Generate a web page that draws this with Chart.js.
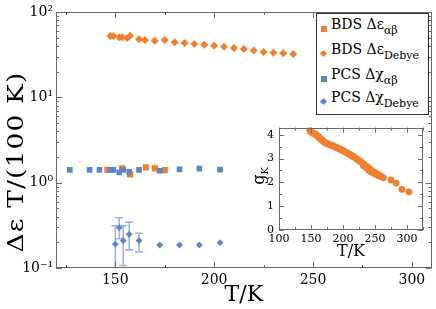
<!DOCTYPE html>
<html>
<head>
<meta charset="utf-8">
<script src="https://cdn.jsdelivr.net/npm/chart.js@4.4.0/dist/chart.umd.min.js"></script>
<style>
  body { margin: 0; background: #fff; }
  #wrap { position: relative; width: 436px; height: 309px; font-family: "DejaVu Serif", serif; color: #000; overflow: hidden; }
  #main { position: absolute; left: 0; top: 0; }
  #inset { position: absolute; left: 236px; top: 116px; }
  .legend { position: absolute; left: 316px; top: 13px; width: 111px; height: 100px; border: 1px solid #333; background: #fff; }
  .row { position: absolute; left: 14px; font-size: 14px; line-height: 14px; white-space: nowrap; }
  .row .s { font-size: 11px; position: relative; top: 5px; }
  .mk { position: absolute; width: 6px; height: 6px; }
  .mk.d { width: 5px; height: 5px; transform: rotate(45deg); }
  .ytitle { position: absolute; left: -85px; top: 149px; width: 200px; height: 26px; font-size: 23px; line-height: 26px;
            letter-spacing: 1px; text-align: center; white-space: nowrap; transform: rotate(-90deg) scaleX(1.15); }
  .gk { position: absolute; left: 244px; top: 166px; width: 30px; height: 20px; font-size: 16px; line-height: 20px;
        text-align: center; transform: rotate(-90deg); }
  .gk span { font-size: 10px; position: relative; top: 4px; }
</style>
</head>
<body>
<div id="wrap">
  <canvas id="main" width="436" height="309"></canvas>
  <canvas id="inset" width="194" height="148"></canvas>
  <div class="legend" id="legend"></div>
  <div class="ytitle">Δε T/(100 K)</div>
  <div class="gk">g<span>K</span></div>
</div>
<script>
const orange = '#f07f2f';
const blue = '#5a87c8';

// BDS Δε_αβ (orange squares)
const bdsAbT = [146, 153.5, 157.5, 165.5, 170, 175];
const bdsAbV = [1.41, 1.47, 1.25, 1.51, 1.47, 1.40];

// BDS Δε_Debye (orange diamonds)
const bdsDebT = [147.5, 149, 152, 153.5, 156, 157.5, 162, 165, 170, 175, 180, 185, 190, 195, 200, 205, 210, 215, 220, 225, 230, 235, 240];
const bdsDebV = [52.3, 52.3, 50.5, 50.5, 49.6, 52.7, 47.9, 47.0, 46.1, 47.0, 44.2, 43.3, 42.2, 41.4, 40.3, 39.2, 37.8, 36.8, 35.5, 34.0, 33.4, 32.8, 32.2];

// PCS Δχ_αβ (blue squares)
const pcsAbT = [127, 137, 142, 147.5, 149, 152, 154, 157, 162, 172.5, 182.5, 192.5, 203];
const pcsAbV = [1.41, 1.41, 1.41, 1.41, 1.41, 1.32, 1.41, 1.34, 1.41, 1.38, 1.43, 1.46, 1.42];

// PCS Δχ_Debye (blue diamonds) with error bars
const pcsDebT = [150, 152, 154, 157, 162, 172.5, 182.5, 192.5, 203];
const pcsDebV = [0.19, 0.297, 0.209, 0.248, 0.209, 0.186, 0.186, 0.186, 0.198];
const pcsDebLo = [0.05, 0.22, 0.107, 0.163, 0.155, null, null, null, null];
const pcsDebHi = [0.313, 0.388, 0.313, 0.345, 0.255, null, null, null, null];

// inset: Kirkwood factor g_K vs T
const gkT = [148, 149, 150, 151, 153, 155, 157, 158, 160, 161, 162, 163, 165, 167, 169, 171, 173, 175, 177, 179,
  181, 183, 185, 187, 189, 191, 193, 195, 197, 199, 201, 203, 205, 207, 209, 211, 213, 215, 217, 219,
  221, 223, 225, 227, 229, 231, 233, 235, 237, 239, 241, 243, 245, 247, 249, 251, 253, 255, 257, 259,
  261, 263, 232, 236, 240, 244, 248, 252, 256, 275, 283, 292, 303];
const gkV = [4.20, 4.15, 4.12, 4.10, 4.07, 4.04, 4.02, 4.00, 3.96, 3.93, 3.90, 3.87, 3.82, 3.78, 3.73, 3.69, 3.66, 3.63, 3.61, 3.58,
  3.56, 3.55, 3.53, 3.50, 3.47, 3.45, 3.42, 3.40, 3.37, 3.35, 3.32, 3.29, 3.26, 3.23, 3.20, 3.17, 3.13, 3.10, 3.07, 3.03,
  2.99, 2.96, 2.92, 2.88, 2.84, 2.79, 2.75, 2.70, 2.66, 2.62, 2.57, 2.53, 2.49, 2.45, 2.42, 2.39, 2.35, 2.32, 2.29, 2.26,
  2.23, 2.19, 2.70, 2.62, 2.52, 2.44, 2.38, 2.33, 2.27, 2.10, 1.97, 1.71, 1.60];

// axis ticks
const xTicks = [150, 200, 250, 300];
const xMinor = [125, 175, 225, 275];
const yTicks = [0.1, 1, 10, 100];
const yTickLabels = ['10⁻¹', '10⁰', '10¹', '10²'];
const yMinor = [];
[0.1, 1, 10].forEach(d => { for (let k = 2; k <= 9; k++) yMinor.push(d * k); });
const inXTicks = [100, 150, 200, 250, 300];
const inXMinor = [125, 175, 225, 275, 325];
const inYTicks = [0, 1, 2, 3, 4];
const inYMinor = [0.5, 1.5, 2.5, 3.5];

function pairs(xs, ys) {
  return xs.map((x, i) => ({ x: x, y: ys[i] }));
}

// frame around the plot area with inward ticks on all four sides
const frameTicks = {
  id: 'frameTicks',
  beforeDraw(chart, args, o) {
    if (!o.fill) return;
    const a = chart.chartArea;
    chart.ctx.save();
    chart.ctx.fillStyle = o.fill;
    chart.ctx.fillRect(a.left, a.top, a.right - a.left, a.bottom - a.top);
    chart.ctx.restore();
  },
  afterDraw(chart, args, o) {
    const { ctx, chartArea: a, scales: { x, y } } = chart;
    ctx.save();
    ctx.strokeStyle = o.color;
    ctx.lineWidth = 1;
    ctx.strokeRect(Math.round(a.left) + 0.5, Math.round(a.top) + 0.5,
      Math.round(a.right - a.left) - 1, Math.round(a.bottom - a.top) - 1);
    ctx.beginPath();
    const vt = (v, len) => {
      const p = Math.round(x.getPixelForValue(v)) + 0.5;
      ctx.moveTo(p, a.bottom); ctx.lineTo(p, a.bottom - len);
      ctx.moveTo(p, a.top); ctx.lineTo(p, a.top + len);
    };
    const ht = (v, len) => {
      const p = Math.round(y.getPixelForValue(v)) + 0.5;
      ctx.moveTo(a.left, p); ctx.lineTo(a.left + len, p);
      ctx.moveTo(a.right, p); ctx.lineTo(a.right - len, p);
    };
    o.xMajor.forEach(v => vt(v, o.major));
    o.xMinor.forEach(v => vt(v, o.minor));
    o.yMajor.forEach(v => ht(v, o.major));
    o.yMinor.forEach(v => ht(v, o.minor));
    ctx.stroke();
    ctx.restore();
  }
};

// error bars for the PCS Debye points
const errorBars = {
  id: 'errorBars',
  beforeDatasetsDraw(chart, args, o) {
    if (!o.lo) return;
    const { ctx, chartArea: a, scales: { x, y } } = chart;
    ctx.save();
    ctx.beginPath();
    ctx.rect(a.left, a.top, a.right - a.left, a.bottom - a.top);
    ctx.clip();
    ctx.strokeStyle = o.color;
    ctx.lineWidth = 1.6;
    o.t.forEach((t, i) => {
      if (o.lo[i] == null) return;
      const px = x.getPixelForValue(t);
      const y1 = y.getPixelForValue(o.hi[i]);
      const y2 = y.getPixelForValue(o.lo[i]);
      ctx.beginPath();
      ctx.moveTo(px, y1); ctx.lineTo(px, y2);
      ctx.moveTo(px - 4, y1); ctx.lineTo(px + 4, y1);
      ctx.moveTo(px - 4, y2); ctx.lineTo(px + 4, y2);
      ctx.stroke();
    });
    ctx.restore();
  }
};

const tickFont = { family: 'DejaVu Serif', size: 14 };

new Chart(document.getElementById('main'), {
  type: 'scatter',
  data: {
    datasets: [
      { label: 'BDS Δε αβ', data: pairs(bdsAbT, bdsAbV), order: 2, pointStyle: 'rect', radius: 4.4,
        backgroundColor: orange, borderWidth: 0 },
      { label: 'BDS Δε Debye', data: pairs(bdsDebT, bdsDebV), order: 2, pointStyle: 'rectRot', radius: 4,
        backgroundColor: orange, borderWidth: 0 },
      { label: 'PCS Δχ αβ', data: pairs(pcsAbT, pcsAbV), order: 1, pointStyle: 'rect', radius: 4,
        backgroundColor: blue, borderWidth: 0 },
      { label: 'PCS Δχ Debye', data: pairs(pcsDebT, pcsDebV), order: 1, pointStyle: 'rectRot', radius: 3.4,
        backgroundColor: blue, borderWidth: 0 }
    ]
  },
  options: {
    responsive: false,
    animation: false,
    layout: { padding: { left: 0, right: 3, top: 12, bottom: 0 } },
    plugins: {
      legend: { display: false },
      tooltip: { enabled: false },
      frameTicks: { color: '#6b6b6b', major: 6, minor: 3, xMajor: xTicks, xMinor: xMinor, yMajor: yTicks, yMinor: yMinor },
      errorBars: { color: 'rgba(90,135,200,0.6)', t: pcsDebT, lo: pcsDebLo, hi: pcsDebHi }
    },
    scales: {
      x: {
        type: 'linear', min: 120, max: 310,
        grid: { display: false, drawTicks: false },
        border: { display: false },
        afterBuildTicks: s => { s.ticks = xTicks.map(v => ({ value: v })); },
        afterFit: s => { s.height = 41; },
        ticks: { font: tickFont, color: '#000', padding: 4 },
        title: { display: true, text: 'T/K', color: '#000', font: { family: 'DejaVu Serif', size: 22 },
          padding: { top: 0, bottom: 1 } }
      },
      y: {
        type: 'logarithmic', min: 0.1, max: 100,
        grid: { display: false, drawTicks: false },
        border: { display: false },
        afterBuildTicks: s => { s.ticks = yTicks.map(v => ({ value: v })); },
        afterFit: s => { s.width = 56; },
        ticks: { font: tickFont, color: '#000', padding: 3,
          callback: (v, i) => yTickLabels[i] }
      }
    }
  },
  plugins: [frameTicks, errorBars]
});

new Chart(document.getElementById('inset'), {
  type: 'scatter',
  data: {
    datasets: [
      { label: 'gK', data: pairs(gkT, gkV), pointStyle: 'circle', radius: 3.4, backgroundColor: orange, borderWidth: 0 }
    ]
  },
  options: {
    responsive: false,
    animation: false,
    layout: { padding: { left: 0, right: 7, top: 6, bottom: 0 } },
    plugins: {
      legend: { display: false },
      tooltip: { enabled: false },
      frameTicks: { fill: '#fff', color: '#6b6b6b', major: 5, minor: 3, xMajor: inXTicks, xMinor: inXMinor, yMajor: inYTicks, yMinor: inYMinor }
    },
    scales: {
      x: {
        type: 'linear', min: 100, max: 325,
        grid: { display: false, drawTicks: false },
        border: { display: false },
        afterBuildTicks: s => { s.ticks = inXTicks.map(v => ({ value: v })); },
        afterFit: s => { s.height = 34; },
        ticks: { font: { family: 'DejaVu Serif', size: 11 }, color: '#000', padding: 3 },
        title: { display: true, text: 'T/K', color: '#000', font: { family: 'DejaVu Serif', size: 16 },
          padding: { top: 0, bottom: 3 } }
      },
      y: {
        type: 'linear', min: 0, max: 4.3,
        grid: { display: false, drawTicks: false },
        border: { display: false },
        afterBuildTicks: s => { s.ticks = inYTicks.map(v => ({ value: v })); },
        afterFit: s => { s.width = 43; },
        ticks: { font: { family: 'DejaVu Serif', size: 11 }, color: '#000', padding: 5 }
      }
    }
  },
  plugins: [frameTicks]
});

// legend with subscripts
const legendItems = [
  { color: orange, shape: 's', name: 'BDS Δε', sub: 'αβ' },
  { color: orange, shape: 'd', name: 'BDS Δε', sub: 'Debye' },
  { color: blue, shape: 's', name: 'PCS Δχ', sub: 'αβ' },
  { color: blue, shape: 'd', name: 'PCS Δχ', sub: 'Debye' }
];
const legendRowY = [3, 28, 53, 76];
const leg = document.getElementById('legend');
legendItems.forEach((it, i) => {
  const mk = document.createElement('div');
  mk.className = 'mk' + (it.shape === 'd' ? ' d' : '');
  mk.style.background = it.color;
  mk.style.left = (it.shape === 'd' ? 4 : 3.5) + 'px';
  mk.style.top = (legendRowY[i] + 9) + 'px';
  leg.appendChild(mk);
  const row = document.createElement('div');
  row.className = 'row';
  row.style.top = legendRowY[i] + 'px';
  row.innerHTML = it.name + '<span class="s">' + it.sub + '</span>';
  leg.appendChild(row);
});
</script>
</body>
</html>
